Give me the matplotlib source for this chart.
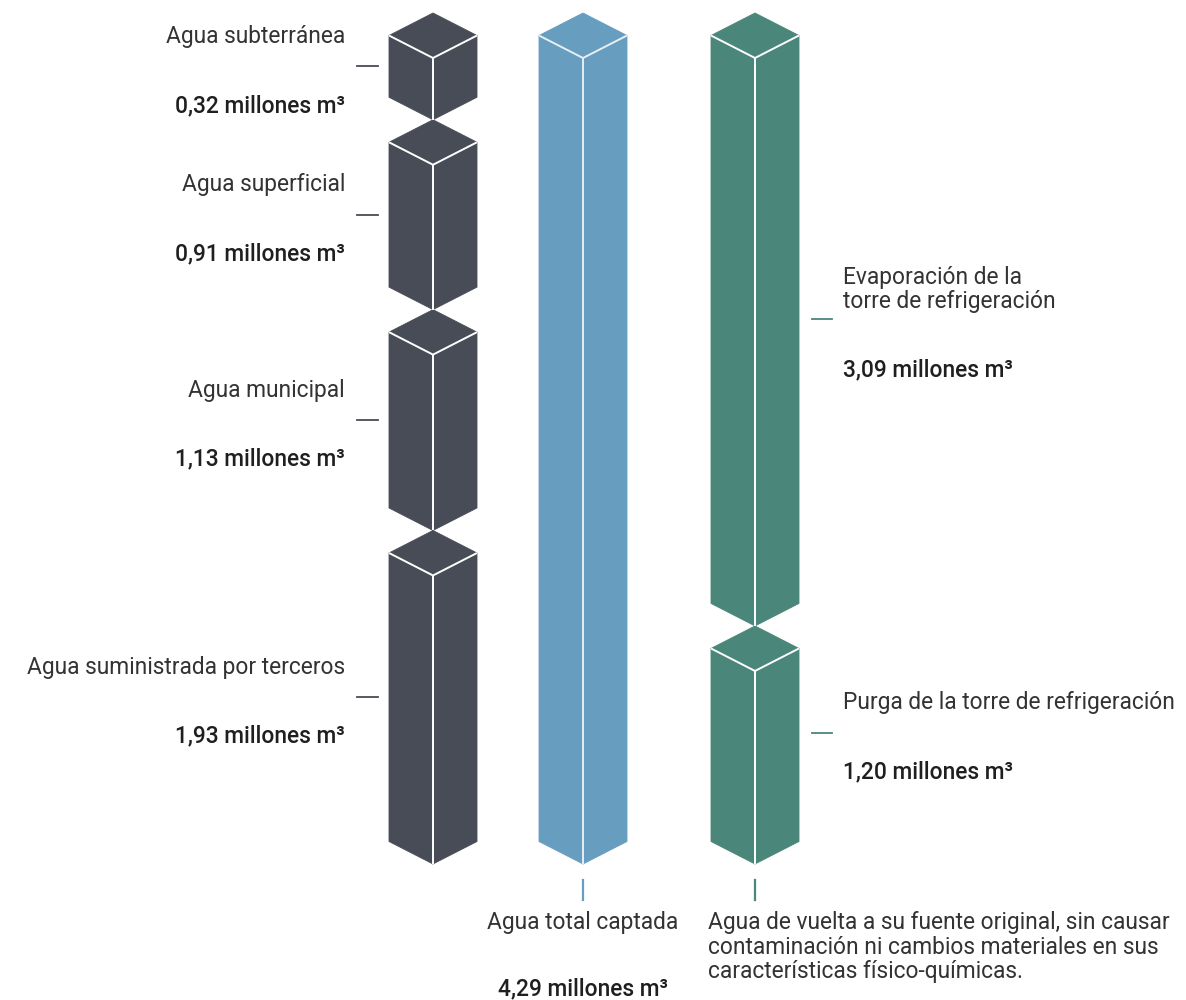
import matplotlib
matplotlib.use("Agg")
import matplotlib.pyplot as plt
from matplotlib.patches import Polygon

# ---------------- data ----------------
source_labels = ["Agua subterránea", "Agua superficial", "Agua municipal",
                 "Agua suministrada por terceros"]
source_values = [0.32, 0.91, 1.13, 1.93]          # millones m3
total_label = "Agua total captada"
total_value = 4.29
return_labels = ["Evaporación de la\ntorre de refrigeración",
                 "Purga de la torre de refrigeración"]
return_values = [3.09, 1.20]
return_caption = ("Agua de vuelta a su fuente original, sin causar\n"
                  "contaminación ni cambios materiales en sus\n"
                  "características físico-químicas.")
unit = "millones m³"

# ---------------- style ----------------
DARK = "#484c56"
BLUE = "#679dbf"
GREEN = "#4a8679"
TEXT = "#333333"
VAL = "#1f1f1f"
FONT = ["Roboto", "DejaVu Sans"]
FS = 16.4

W, H = 1186, 1000
fig = plt.figure(figsize=(W / 100, H / 100), dpi=100)
ax = fig.add_axes([0, 0, 1, 1])
ax.set_xlim(0, W)
ax.set_ylim(H, 0)
ax.axis("off")

TOP, BOTTOM = 13, 864          # column extent
HW, D = 44, 22.5               # half width and diamond half-height


def fmt(v):
    return f"{v:.2f}".replace(".", ",") + " " + unit


def seg_heights(values, mix):
    n = len(values)
    tot = sum(values)
    span = BOTTOM - TOP
    return [span * (mix * v / tot + (1 - mix) / n) for v in values]


def prism(cx, t, b, color, edge="white"):
    left = [(cx - HW, t + D), (cx, t + 2 * D), (cx, b), (cx - HW, b - D)]
    right = [(cx, t + 2 * D), (cx + HW, t + D), (cx + HW, b - D), (cx, b)]
    top = [(cx, t), (cx + HW, t + D), (cx, t + 2 * D), (cx - HW, t + D)]
    for poly in (left, right, top):
        ax.add_patch(Polygon(poly, closed=True, facecolor=color,
                             edgecolor=color, lw=0.6, joinstyle="miter"))
    ax.plot([cx - HW, cx, cx + HW], [t + D, t + 2 * D, t + D],
            color=edge, lw=1.4, solid_capstyle="butt")
    ax.plot([cx, cx], [t + 2 * D, b], color=edge, lw=1.4,
            solid_capstyle="butt")


# ---- column 1: sources ----
cx1 = 433
y = TOP
for lab, v, h in zip(source_labels, source_values,
                     seg_heights(source_values, 0.71)):
    prism(cx1, y, y + h, DARK)
    mid = y + h / 2
    ax.plot([357, 378], [mid, mid], color=DARK, lw=1.3)
    ax.text(345, mid - 30, lab, ha="right", va="center", fontsize=FS,
            color=TEXT, family=FONT, fontweight="normal")
    ax.text(345, mid + 39, fmt(v), ha="right", va="center", fontsize=FS,
            color=VAL, family=FONT, fontweight="medium")
    y += h

# ---- column 2: total ----
cx2 = 583
prism(cx2, TOP, BOTTOM, BLUE, edge="#e6eff5")
ax.plot([cx2, cx2], [880, 900], color=BLUE, lw=1.6)
ax.text(cx2, 922, total_label, ha="center", va="center", fontsize=FS,
        color=TEXT, family=FONT, fontweight="normal")
ax.text(cx2, 989, fmt(total_value), ha="center", va="center", fontsize=FS,
        color=VAL, family=FONT, fontweight="medium")

# ---- column 3: returns ----
cx3 = 755
y = TOP
offsets = [(-30, 50), (-30, 39)]
for (lab, v, h), (lo, vo) in zip(zip(return_labels, return_values,
                                     seg_heights(return_values, 1.0)),
                                 offsets):
    prism(cx3, y, y + h, GREEN)
    mid = y + h / 2 if "\n" in lab else y + h / 2 - 12
    ax.plot([812, 832], [mid, mid], color=GREEN, lw=1.3)
    ax.text(843, mid + lo, lab, ha="left", va="center", fontsize=FS,
            color=TEXT, family=FONT, fontweight="normal", linespacing=1.07)
    ax.text(843, mid + vo, fmt(v), ha="left", va="center", fontsize=FS,
            color=VAL, family=FONT, fontweight="medium")
    y += h

ax.plot([cx3, cx3], [880, 900], color=GREEN, lw=1.6)
ax.text(708, 947, return_caption, ha="left", va="center", fontsize=FS,
        color=TEXT, family=FONT, fontweight="normal", linespacing=1.07)

fig.savefig("out.png", dpi=100, facecolor="white")
